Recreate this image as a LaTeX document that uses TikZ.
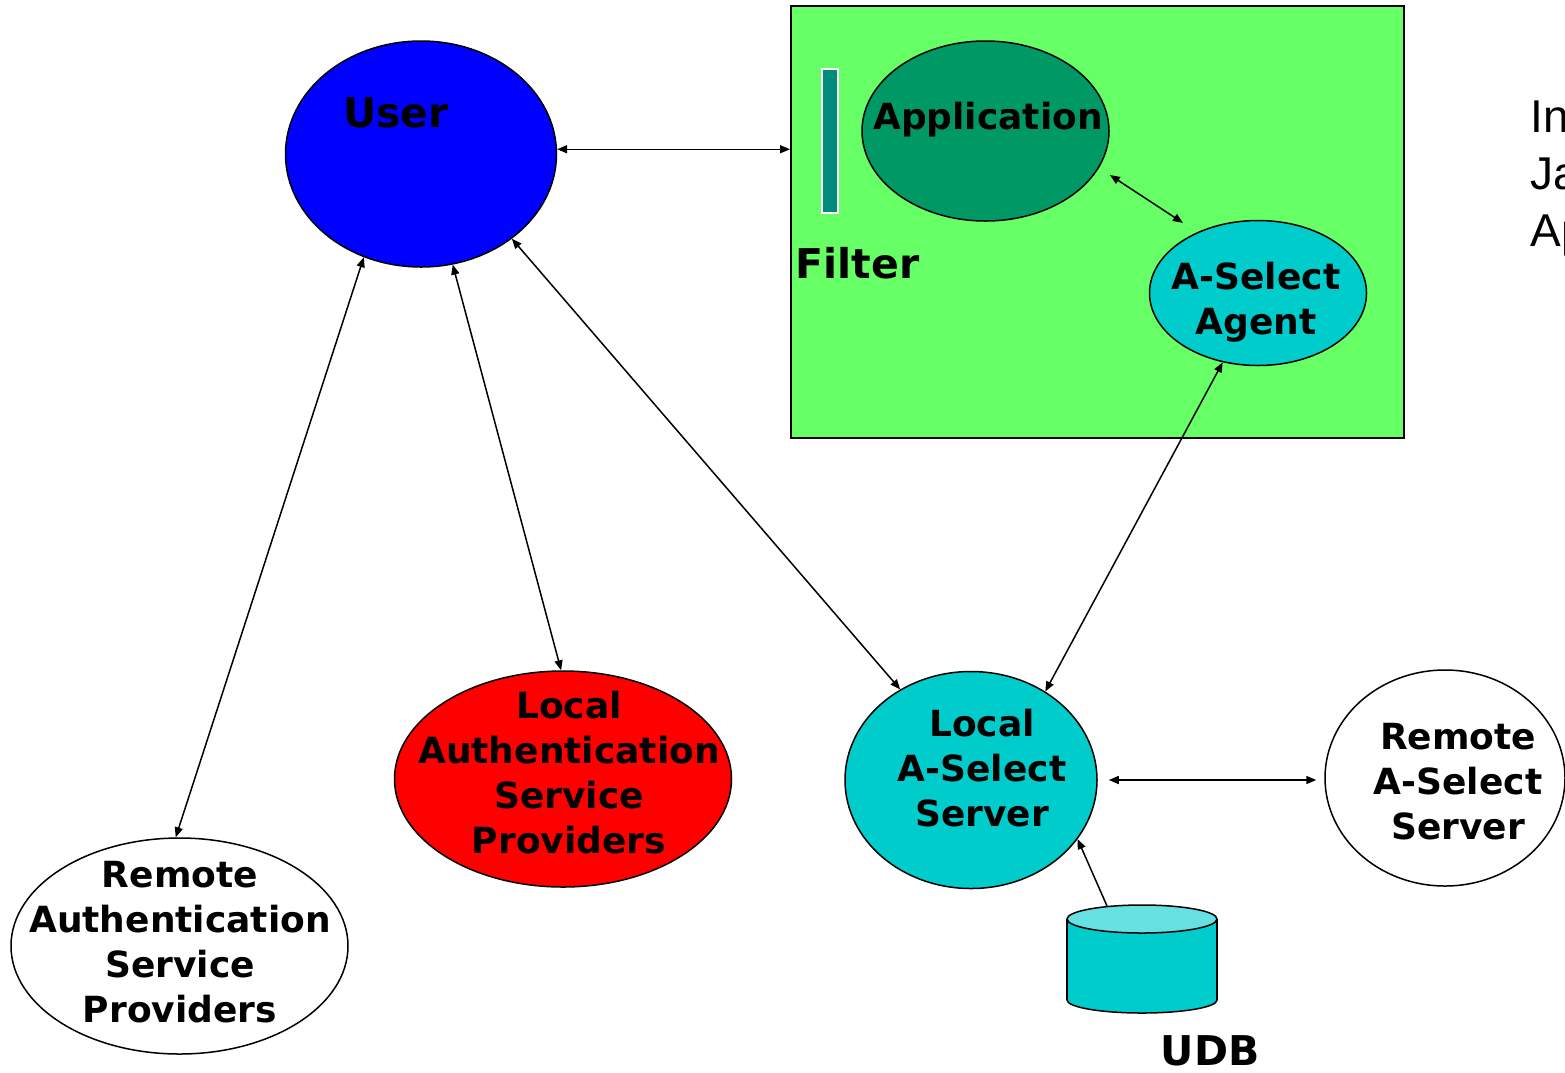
\documentclass[tikz,border=0pt]{standalone}
\usepackage{fontspec}
\setmainfont{DejaVu Sans}
\newfontfamily\arialfont{Liberation Sans}
\usetikzlibrary{shapes,arrows.meta,calc}
\definecolor{boxGreen}{RGB}{102,255,102}
\definecolor{appGreen}{RGB}{0,153,102}
\definecolor{selCyan}{RGB}{0,204,204}
\definecolor{udbTop}{RGB}{102,224,224}
\definecolor{filterTeal}{RGB}{0,140,122}
\definecolor{userBlue}{RGB}{0,0,255}

\begin{document}
\begin{tikzpicture}[x=1pt,y=-1pt,line width=1.5pt,>={Triangle[length=10pt,width=8pt]},
    oval/.style={ellipse,draw=black,inner sep=0pt},
    lbl/.style={font=\bfseries\fontsize{36}{45}\selectfont,align=center,inner sep=0pt},
    biglbl/.style={font=\bfseries\fontsize{41}{45}\selectfont,inner sep=0pt}]

      \useasboundingbox (0,0) rectangle (1565,1072);

      % draw the application box
      \node[draw=black,fill=boxGreen,minimum width=613pt,minimum height=432pt,anchor=north west,inner sep=0pt] (box) at (790,5) {};
      \node[draw=white,fill=filterTeal,line width=1.2pt,minimum width=16pt,minimum height=144pt,inner sep=0pt] (filter) at (830,141) {};
      \node[biglbl,anchor=base west] (filterlbl) at (795,278) {Filter};

      % draw the ovals
      \foreach \name/\x/\y/\w/\h/\col in {user/421/154/271/226/userBlue,
        app/985.5/131/247/180/appGreen,
        agent/1258/293/217/145/selCyan,
        las/563/779/337/216/red,
        lass/971/780/252/217/selCyan,
        ras/179.5/946/337/216/white,
        rass/1445/778/240/216/white}
      \node[oval,fill=\col,minimum width=\w pt,minimum height=\h pt] (\name) at (\x,\y) {};

      % label the ovals
      \node[biglbl,anchor=base] (userlbl) at (396,127) {User};
      \node[lbl,anchor=base] (applbl) at (988,129) {Application};
      \node[lbl] (agentlbl) at (1256,302) {A-Select\\Agent};
      \node[lbl] (laslbl) at (569,773) {Local\\Authentication\\Service\\Providers};
      \node[lbl] (lasslbl) at (982,768) {Local\\A-Select\\Server};
      \node[lbl] (rasslbl) at (1458,782) {Remote\\A-Select\\Server};
      \node[lbl] (raslbl) at (180,942) {Remote\\Authentication\\Service\\Providers};

      % draw the user database
      \filldraw[fill=selCyan] (1142,1000) ellipse [x radius=75pt,y radius=13pt];
      \fill[selCyan] (1067,919) rectangle (1217,1000);
      \draw (1067,919) -- (1067,1000) (1217,919) -- (1217,1000);
      \filldraw[fill=udbTop] (1142,919) ellipse [x radius=75pt,y radius=14pt];
      \coordinate (udb) at (1107,906);
      \node[biglbl,anchor=base] (udblbl) at (1210,1065) {UDB};

      % text at the right border
      \node[font=\arialfont\fontsize{46}{57}\selectfont,align=left,anchor=north west,inner sep=0pt] (side) at (1530,100) {In\\Ja\\Ap};

      % draw the connections
      \foreach \a/\b in {user.-43/lass.128, user.-74.5/las.91.5, user.-119/ras.92, agent.-117/lass.50}
      \draw[<->] (\a) -- (\b);
      \draw[<->] (user.2) -- (user.2 -| box.west);
      \draw[<->,shorten <=13pt,shorten >=17pt] (app.-18) -- (agent.135);
      \draw[<->,shorten <=11pt,shorten >=8pt] (lass.east) -- (lass.east -| rass.west);
      \draw[->] (udb) -- (lass.-29);

\end{tikzpicture}
\end{document}
